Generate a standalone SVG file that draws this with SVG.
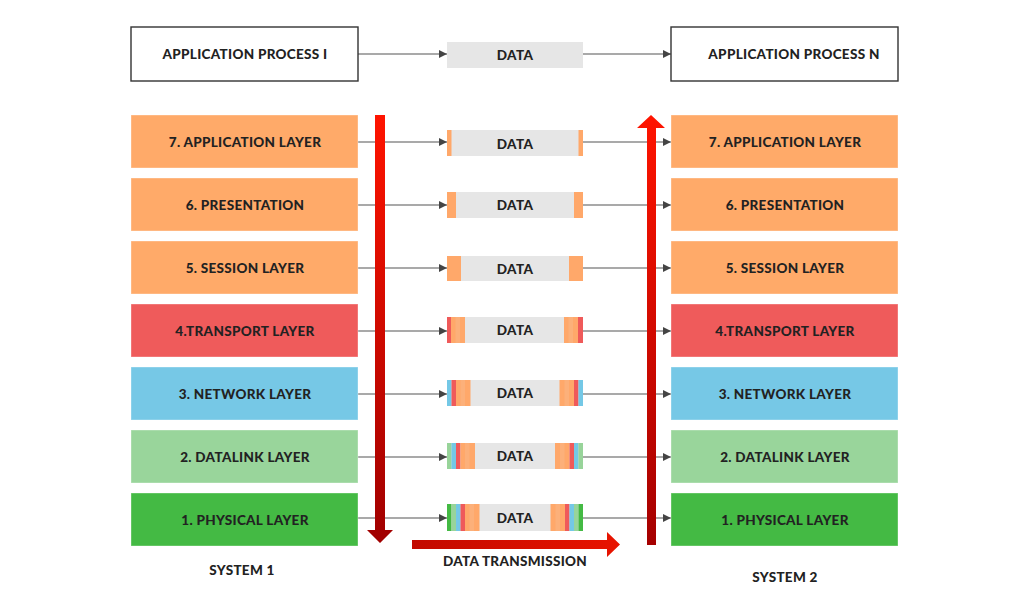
<svg xmlns="http://www.w3.org/2000/svg" width="1030" height="602" viewBox="0 0 1030 602">
<style>
text{font-family:Lato,"Liberation Sans",sans-serif;font-weight:900;fill:#222;text-anchor:middle;dominant-baseline:central}
.lbl{font-size:13.5px;letter-spacing:0.3px}
.dt{font-size:13.5px;letter-spacing:0.3px}
.proc{fill:#fff;stroke:#333;stroke-width:1.4}
.pk{fill:#e6e6e6}
.con{stroke:#555;stroke-width:1.2;fill:none;marker-end:url(#ah)}
.o{fill:#ffa86a}.o2{fill:#fcb07a}.r{fill:#ef5a5a}.b{fill:#74c8e6}.lg{fill:#98d49a}.g{fill:#44ba44}
.L7,.L6,.L5{fill:#ffaa69}.L4{fill:#ef5b5b}.L3{fill:#76c8e6}.L2{fill:#99d59b}.L1{fill:#44ba44}
.box{stroke:#fff;stroke-opacity:.35;stroke-width:1}
</style>
<defs>
<marker id="ah" viewBox="0 0 10 10" refX="10" refY="5" markerWidth="8" markerHeight="8" markerUnits="userSpaceOnUse" orient="auto"><path d="M0,0L10,5L0,10z" fill="#444"/></marker>
<linearGradient id="gd" x1="0" y1="0" x2="0" y2="1"><stop offset="0" stop-color="#ff1400"/><stop offset="1" stop-color="#a00000"/></linearGradient>
<linearGradient id="gu" x1="0" y1="0" x2="0" y2="1"><stop offset="0" stop-color="#ff1400"/><stop offset="1" stop-color="#a50000"/></linearGradient>
<linearGradient id="gh" x1="0" y1="0" x2="1" y2="0"><stop offset="0" stop-color="#c20a00"/><stop offset="1" stop-color="#e81400"/></linearGradient>
</defs>

<g id="connectors">
<line class="con" x1="358" y1="54" x2="447" y2="54"/>
<line class="con" x1="583" y1="54" x2="671" y2="54"/>
<line class="con" x1="358" y1="142" x2="447" y2="142"/>
<line class="con" x1="583" y1="142" x2="671" y2="142"/>
<line class="con" x1="358" y1="205" x2="447" y2="205"/>
<line class="con" x1="583" y1="205" x2="671" y2="205"/>
<line class="con" x1="358" y1="268" x2="447" y2="268"/>
<line class="con" x1="583" y1="268" x2="671" y2="268"/>
<line class="con" x1="358" y1="331" x2="447" y2="331"/>
<line class="con" x1="583" y1="331" x2="671" y2="331"/>
<line class="con" x1="358" y1="394" x2="447" y2="394"/>
<line class="con" x1="583" y1="394" x2="671" y2="394"/>
<line class="con" x1="358" y1="457" x2="447" y2="457"/>
<line class="con" x1="583" y1="457" x2="671" y2="457"/>
<line class="con" x1="358" y1="518" x2="447" y2="518"/>
<line class="con" x1="583" y1="518" x2="671" y2="518"/>
</g>

<g id="arrow-down"><path d="M375,115H385V530H393L380,543L367,530H375Z" fill="url(#gd)"/></g>
<g id="arrow-up"><path d="M647,545V128H637L651,115L665,128H656V545Z" fill="url(#gu)"/></g>
<g id="arrow-right"><path d="M412,540H607V532L620,544.5L607,557V549H412Z" fill="url(#gh)"/></g>

<g id="proc-i"><rect class="proc" x="131" y="27" width="227" height="54"/><text class="lbl" x="245" y="54">APPLICATION PROCESS I</text></g>
<g id="proc-n"><rect class="proc" x="671" y="27" width="227" height="54"/><text class="lbl" x="794" y="54">APPLICATION PROCESS N</text></g>
<g id="data-top"><rect class="pk" x="447" y="42" width="136" height="26"/><text class="dt" x="515" y="55">DATA</text></g>

<g id="s1-l7"><rect class="box L7" x="131" y="115" width="227" height="53"/><text class="lbl" x="245" y="142">7. APPLICATION LAYER</text></g>
<g id="s1-l6"><rect class="box L6" x="131" y="178" width="227" height="53"/><text class="lbl" x="245" y="205">6. PRESENTATION</text></g>
<g id="s1-l5"><rect class="box L5" x="131" y="241" width="227" height="53"/><text class="lbl" x="245" y="268">5. SESSION LAYER</text></g>
<g id="s1-l4"><rect class="box L4" x="131" y="304" width="227" height="53"/><text class="lbl" x="245" y="331">4.TRANSPORT LAYER</text></g>
<g id="s1-l3"><rect class="box L3" x="131" y="367" width="227" height="53"/><text class="lbl" x="245" y="394">3. NETWORK LAYER</text></g>
<g id="s1-l2"><rect class="box L2" x="131" y="430" width="227" height="53"/><text class="lbl" x="245" y="457">2. DATALINK LAYER</text></g>
<g id="s1-l1"><rect class="box L1" x="131" y="493" width="227" height="53"/><text class="lbl" x="245" y="520">1. PHYSICAL LAYER</text></g>

<g id="s2-l7"><rect class="box L7" x="671" y="115" width="227" height="53"/><text class="lbl" x="785" y="142">7. APPLICATION LAYER</text></g>
<g id="s2-l6"><rect class="box L6" x="671" y="178" width="227" height="53"/><text class="lbl" x="785" y="205">6. PRESENTATION</text></g>
<g id="s2-l5"><rect class="box L5" x="671" y="241" width="227" height="53"/><text class="lbl" x="785" y="268">5. SESSION LAYER</text></g>
<g id="s2-l4"><rect class="box L4" x="671" y="304" width="227" height="53"/><text class="lbl" x="785" y="331">4.TRANSPORT LAYER</text></g>
<g id="s2-l3"><rect class="box L3" x="671" y="367" width="227" height="53"/><text class="lbl" x="785" y="394">3. NETWORK LAYER</text></g>
<g id="s2-l2"><rect class="box L2" x="671" y="430" width="227" height="53"/><text class="lbl" x="785" y="457">2. DATALINK LAYER</text></g>
<g id="s2-l1"><rect class="box L1" x="671" y="493" width="227" height="53"/><text class="lbl" x="785" y="520">1. PHYSICAL LAYER</text></g>

<g id="pk7"><rect class="pk" x="447" y="130" width="136" height="26"/>
<rect class="o" x="447" y="130" width="4.5" height="26"/><rect class="o" x="578.5" y="130" width="4.5" height="26"/>
<text class="dt" x="515" y="144">DATA</text></g>
<g id="pk6"><rect class="pk" x="447" y="192" width="136" height="26"/>
<rect class="o" x="447" y="192" width="9" height="26"/><rect class="o" x="574" y="192" width="9" height="26"/>
<text class="dt" x="515" y="205">DATA</text></g>
<g id="pk5"><rect class="pk" x="447" y="256" width="136" height="25"/>
<rect class="o" x="447" y="256" width="14" height="25"/><rect class="o" x="569" y="256" width="14" height="25"/>
<text class="dt" x="515" y="269">DATA</text></g>
<g id="pk4"><rect class="pk" x="447" y="317" width="136" height="26"/>
<rect class="r" x="447" y="317" width="4" height="26"/><rect class="o" x="451" y="317" width="14" height="26"/><rect class="o2" x="455.5" y="317" width="4.5" height="26"/>
<rect class="o" x="564" y="317" width="14" height="26"/><rect class="o2" x="568.5" y="317" width="4.5" height="26"/><rect class="r" x="578" y="317" width="5" height="26"/>
<text class="dt" x="515" y="330">DATA</text></g>
<g id="pk3"><rect class="pk" x="447" y="380" width="136" height="26"/>
<rect class="b" x="447" y="380" width="4.5" height="26"/><rect class="r" x="451.5" y="380" width="4.5" height="26"/><rect class="o" x="456" y="380" width="14.5" height="26"/><rect class="o2" x="460.5" y="380" width="4.5" height="26"/>
<rect class="o" x="559.5" y="380" width="14.5" height="26"/><rect class="o2" x="564.5" y="380" width="4.5" height="26"/><rect class="r" x="574" y="380" width="4.5" height="26"/><rect class="b" x="578.5" y="380" width="4.5" height="26"/>
<text class="dt" x="515" y="393">DATA</text></g>
<g id="pk2"><rect class="pk" x="447" y="443" width="136" height="26"/>
<rect class="lg" x="447" y="443" width="4.5" height="26"/><rect class="b" x="451.5" y="443" width="4.5" height="26"/><rect class="r" x="456" y="443" width="4.5" height="26"/><rect class="o" x="460.5" y="443" width="14.5" height="26"/><rect class="o2" x="465" y="443" width="4.5" height="26"/>
<rect class="o" x="555" y="443" width="14.5" height="26"/><rect class="o2" x="560" y="443" width="4.5" height="26"/><rect class="r" x="569.5" y="443" width="4.5" height="26"/><rect class="b" x="574" y="443" width="4.5" height="26"/><rect class="lg" x="578.5" y="443" width="4.5" height="26"/>
<text class="dt" x="515" y="456">DATA</text></g>
<g id="pk1"><rect class="pk" x="447" y="504" width="136" height="27"/>
<rect class="g" x="447" y="504" width="4.5" height="27"/><rect class="lg" x="451.5" y="504" width="4.5" height="27"/><rect class="b" x="456" y="504" width="4.5" height="27"/><rect class="r" x="460.5" y="504" width="4.5" height="27"/><rect class="o" x="465" y="504" width="14.5" height="27"/><rect class="o2" x="469.5" y="504" width="4.5" height="27"/>
<rect class="o" x="550.5" y="504" width="14.5" height="27"/><rect class="o2" x="555.5" y="504" width="4.5" height="27"/><rect class="r" x="565" y="504" width="4.5" height="27"/><rect class="b" x="569.5" y="504" width="4.5" height="27"/><rect class="lg" x="574" y="504" width="4.5" height="27"/><rect class="g" x="578.5" y="504" width="4.5" height="27"/>
<text class="dt" x="515" y="518">DATA</text></g>

<g id="labels">
<text class="lbl" x="242" y="570">SYSTEM 1</text>
<text class="lbl" x="515" y="561">DATA TRANSMISSION</text>
<text class="lbl" x="785" y="577">SYSTEM 2</text>
</g>
</svg>
